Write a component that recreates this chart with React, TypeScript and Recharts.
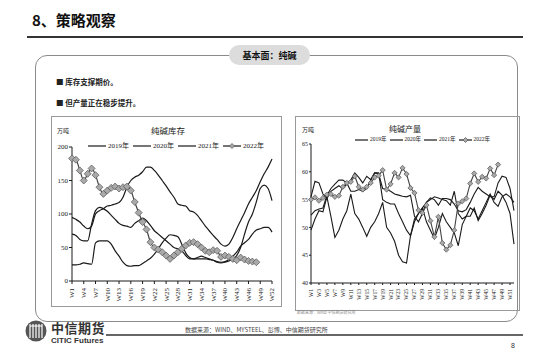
import React from 'react';
import { LineChart, Line, XAxis, YAxis } from 'recharts';

// 周次
const weeks = Array.from({ length: 52 }, (_, i) => `W${i + 1}`);
const years = ['2019年', '2020年', '2021年', '2022年'];

// 纯碱库存（万吨）
const stock2019 = [24, 24, 25, 27, 26, 25, 57, 60, 60, 60, 55, 45, 37, 28, 23, 22, 23, 23, 26, 30, 34, 40, 48, 57, 64, 69,
  68, 66, 55, 42, 35, 33, 33, 33, 33, 32, 31, 29, 28, 29, 32, 37, 43, 52, 57, 62, 70, 76, 78, 80, 80, 73];
const stock2020 = [95, 92, 88, 82, 78, 82, 100, 105, 108, 112, 113, 115, 117, 125, 140, 150, 155, 158, 163, 170, 170, 165,
  158, 150, 142, 133, 125, 115, 113, 112, 105, 103, 98, 90, 82, 75, 68, 62, 55, 52, 55, 65, 78, 90, 102, 115, 125, 135, 148, 160, 170, 182];
const stock2021 = [70, 68, 62, 60, 60, 85, 105, 110, 108, 104, 98, 92, 86, 83, 82, 80, 86, 90, 94, 90, 83, 75, 70, 65, 60, 55,
  50, 48, 45, 38, 33, 33, 35, 37, 35, 33, 31, 28, 27, 28, 30, 33, 38, 50, 70, 88, 100, 118, 138, 143, 138, 120];
const stock2022 = [183, 181, 165, 150, 160, 168, 158, 140, 130, 135, 139, 141, 138, 140, 141, 135, 118, 102, 88, 77, 58, 50,
  47, 43, 38, 33, 38, 43, 48, 53, 57, 58, 55, 50, 45, 43, 46, 45, 36, 38, 36, 33, 31, 35, 32, 30, 29, 28];

// 纯碱产量（万吨）
const output2019 = [52.2, 53.0, 53.3, 53.5, 55.8, 57.0, 57.8, 58.5, 58.5, 58.0, 56.5, 56.5, 56.8, 56.5, 57.0, 58.5, 59.8,
  59.6, 57.0, 56.8, 56.5, 56.0, 55.8, 55.6, 55.5, 55.8, 52.0, 51.0, 52.5, 54.5, 55.3, 55.0, 54.0, 55.2, 55.2, 55.0, 54.2,
  53.0, 52.8, 53.2, 54.5, 56.0, 57.2, 56.5, 56.0, 55.5, 55.5, 58.0, 59.2, 59.0, 57.0, 53.0];
const output2020 = [49.5, 51.5, 53.0, 52.8, 55.5, 52.0, 48.2, 49.5, 51.5, 53.0, 56.0, 52.5, 51.5, 50.0, 48.4, 50.0, 51.0,
  52.5, 54.5, 50.0, 49.0, 47.5, 45.0, 43.8, 43.6, 48.5, 51.0, 52.5, 53.5, 51.0, 49.5, 48.0, 50.0, 52.5, 51.0, 50.0, 49.0,
  46.7, 50.5, 52.0, 52.0, 53.5, 51.2, 52.5, 54.0, 55.8, 55.0, 56.5, 55.8, 54.5, 52.5, 47.0];
const output2021 = [55.5, 58.3, 58.0, 56.0, 55.2, 56.5, 57.0, 57.5, 57.0, 57.8, 58.5, 59.8, 59.0, 58.0, 59.2, 58.6, 59.8,
  59.8, 55.0, 54.5, 54.2, 54.2, 52.5, 51.0, 49.5, 48.5, 51.5, 52.5, 53.5, 54.5, 55.0, 55.5, 55.3, 55.0, 54.8, 54.0, 56.5,
  52.5, 51.5, 52.0, 53.5, 53.0, 51.5, 53.0, 54.5, 56.0, 54.5, 53.8, 55.5, 56.0, 55.5, 54.5];
const output2022 = [55.0, 55.4, 54.8, 55.3, 55.9, 56.0, 55.5, 55.7, 57.3, 58.0, 58.2, 59.2, 57.3, 56.8, 57.3, 58.0, 59.0,
  59.3, 60.3, 56.8, 57.8, 59.8, 59.0, 60.7, 59.6, 57.1, 56.2, 53.1, 52.6, 54.0, 51.2, 48.3, 51.9, 47.2, 46.0, 46.8, 49.5,
  54.3, 54.7, 55.2, 57.9, 59.7, 58.2, 59.1, 58.8, 60.6, 59.4, 61.3];

const stockData = weeks.map((w, i) => ({
  week: w, y2019: stock2019[i], y2020: stock2020[i], y2021: stock2021[i], y2022: stock2022[i] ?? null,
}));
const outputData = weeks.map((w, i) => ({
  week: w, y2019: output2019[i], y2020: output2020[i], y2021: output2021[i], y2022: output2022[i] ?? null,
}));

const serif = '"Liberation Serif", "Noto Sans CJK SC", serif';
const cjk = '"Noto Sans CJK SC", "Noto Sans", sans-serif';
const ink = '#1a1a1a';

const diamond = (r: number) => (props: any) => {
  const { cx, cy, index } = props;
  if (cy == null || cx == null) return <g key={index} />;
  return (
    <polygon key={index} points={`${cx},${cy - r} ${cx + r},${cy} ${cx},${cy + r} ${cx - r},${cy}`}
      fill="#a9a9a9" stroke="#555" strokeWidth={0.7} />
  );
};

function WeekTick({ x, y, payload, size }: any) {
  return (
    <text x={x} y={y + 2} transform={`rotate(-90 ${x} ${y + 2})`} textAnchor="end" dy="0.35em"
      fontSize={size} fontFamily={serif} fill={ink}>{payload.value}</text>
  );
}

function LegendRow({ left, top, size, seg, gap }: { left: number; top: number; size: number; seg: number; gap: number }) {
  return (
    <div style={{ position: 'absolute', left, top, display: 'flex', alignItems: 'center', fontFamily: serif, fontSize: size, color: ink, lineHeight: 1, whiteSpace: 'nowrap' }}>
      {years.map((y, i) => (
        <div key={y} style={{ display: 'flex', alignItems: 'center', marginRight: gap }}>
          <svg width={seg} height={8} style={{ marginRight: 2 }}>
            <line x1={0} y1={4} x2={seg} y2={4} stroke={ink} strokeWidth={1.2} />
            {i === 3 && <polygon points={`${seg / 2},1.5 ${seg / 2 + 2.5},4 ${seg / 2},6.5 ${seg / 2 - 2.5},4`} fill="#a9a9a9" stroke="#555" strokeWidth={0.7} />}
          </svg>
          {y}
        </div>
      ))}
    </div>
  );
}

export default function App() {
  return (
    <div style={{ position: 'absolute', left: 0, top: 0, width: 550, height: 360, background: '#fff', overflow: 'hidden', fontFamily: cjk }}>
      {/* 标题 */}
      <div style={{ position: 'absolute', left: 32, top: 9, fontSize: 15, fontWeight: 700, color: '#111' }}>8、策略观察</div>
      <div style={{ position: 'absolute', left: 27, top: 36, width: 496, height: 2, background: '#333' }} />

      {/* 圆角框 */}
      <div style={{ position: 'absolute', left: 35, top: 55, width: 481, height: 265, border: '1px solid #8a8a8a', borderRadius: 12 }} />
      <div style={{ position: 'absolute', left: 229, top: 45, width: 81, height: 20, background: '#dcdcdc', borderRadius: 10,
        display: 'flex', alignItems: 'center', justifyContent: 'center', fontSize: 9, fontWeight: 700, color: '#111' }}>基本面：纯碱</div>

      <div style={{ position: 'absolute', left: 56, top: 76, fontSize: 7.5, fontWeight: 700, color: '#222' }}>■ 库存支撑期价。</div>
      <div style={{ position: 'absolute', left: 56, top: 97, fontSize: 7.5, fontWeight: 700, color: '#222' }}>■ 但产量正在稳步提升。</div>

      {/* 纯碱库存 */}
      <div style={{ position: 'absolute', left: 51, top: 116, width: 229, height: 189, border: '1px solid #999' }} />
      <div style={{ position: 'absolute', left: 57, top: 126, fontSize: 6, color: ink }}>万吨</div>
      <div style={{ position: 'absolute', left: 151, top: 124, fontSize: 8.5, color: ink }}>纯碱库存</div>
      <LegendRow left={88} top={142} size={7} seg={18} gap={4} />
      <div style={{ position: 'absolute', left: 51, top: 117 }}>
        <LineChart width={230} height={189} data={stockData} margin={{ top: 30, right: 9, bottom: 0, left: 0 }}>
          <XAxis dataKey="week" interval={2} height={25} tickSize={3} stroke={ink}
            tick={<WeekTick size={7} />} />
          <YAxis domain={[0, 200]} ticks={[0, 50, 100, 150, 200]} width={21} tickSize={3} tickMargin={1} stroke={ink}
            tick={{ fontSize: 7, fontFamily: serif, fill: ink }} />
          <Line type="monotone" dataKey="y2019" stroke={ink} strokeWidth={1.2} dot={false} isAnimationActive={false} />
          <Line type="monotone" dataKey="y2020" stroke={ink} strokeWidth={1.2} dot={false} isAnimationActive={false} />
          <Line type="monotone" dataKey="y2021" stroke={ink} strokeWidth={1.2} dot={false} isAnimationActive={false} />
          <Line type="monotone" dataKey="y2022" stroke="#444" strokeWidth={1.2} dot={diamond(3.5)} isAnimationActive={false} />
        </LineChart>
      </div>

      {/* 纯碱产量 */}
      <div style={{ position: 'absolute', left: 295, top: 116, width: 223, height: 193, border: '1px solid #999' }} />
      <div style={{ position: 'absolute', left: 302, top: 125, fontSize: 6, color: ink }}>万吨</div>
      <div style={{ position: 'absolute', left: 389, top: 123, fontSize: 8, color: ink }}>纯碱产量</div>
      <LegendRow left={355} top={136} size={5.5} seg={13} gap={3} />
      <div style={{ position: 'absolute', left: 295, top: 117 }}>
        <LineChart width={224} height={193} data={outputData} margin={{ top: 27, right: 5, bottom: 0, left: 0 }}>
          <XAxis dataKey="week" interval={1} height={27} tickSize={2} stroke={ink}
            tick={<WeekTick size={5.5} />} />
          <YAxis domain={[40, 65]} ticks={[40, 45, 50, 55, 60, 65]} width={16} tickSize={2} tickMargin={1} stroke={ink}
            tick={{ fontSize: 6, fontFamily: serif, fill: ink }} />
          <Line type="linear" dataKey="y2019" stroke={ink} strokeWidth={1.1} dot={false} isAnimationActive={false} />
          <Line type="linear" dataKey="y2020" stroke={ink} strokeWidth={1.1} dot={false} isAnimationActive={false} />
          <Line type="linear" dataKey="y2021" stroke={ink} strokeWidth={1.1} dot={false} isAnimationActive={false} />
          <Line type="linear" dataKey="y2022" stroke="#444" strokeWidth={1.1} dot={diamond(2.6)} isAnimationActive={false} />
        </LineChart>
      </div>
      <div style={{ position: 'absolute', left: 297, top: 309, fontSize: 4, color: '#888' }}>数据来源：Wind 中信期货研究所</div>

      {/* 页脚 */}
      <svg style={{ position: 'absolute', left: 25, top: 320 }} width={22} height={22}>
        <circle cx={11} cy={11} r={10.5} fill="#555" />
        {[5, 8, 11, 14, 17].map(x => <line key={x} x1={x} y1={4} x2={x} y2={18} stroke="#fff" strokeWidth={1.2} />)}
        <line x1={5} y1={6} x2={17} y2={6} stroke="#fff" strokeWidth={1} />
      </svg>
      <div style={{ position: 'absolute', left: 51, top: 318, fontSize: 13, fontWeight: 700, color: '#333', letterSpacing: 0.5 }}>中信期货</div>
      <div style={{ position: 'absolute', left: 51, top: 336, fontSize: 8, fontWeight: 700, color: '#333', fontFamily: '"Liberation Sans", sans-serif' }}>CITIC Futures</div>
      <div style={{ position: 'absolute', left: 106, top: 334, width: 417, height: 1.5, background: '#666' }} />
      <div style={{ position: 'absolute', left: 185, top: 325, fontSize: 6, color: '#444' }}>数据来源：WIND、MYSTEEL、彭博、中信期货研究所</div>
      <div style={{ position: 'absolute', left: 511, top: 342, fontSize: 7, color: '#333', fontFamily: '"Liberation Sans", sans-serif' }}>8</div>
    </div>
  );
}
